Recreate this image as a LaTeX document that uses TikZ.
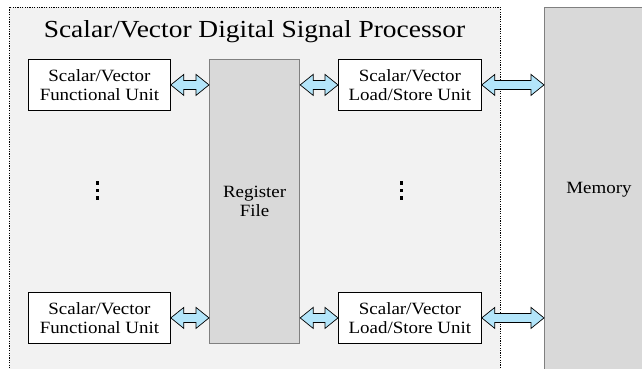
\documentclass[tikz,border=0pt]{standalone}
\usepackage{fontspec}
\setmainfont{Liberation Serif}
\newfontfamily\boxfont[FakeStretch=1.1]{Liberation Serif}
\newfontfamily\titlefont[FakeStretch=1.12]{Liberation Serif}
\usetikzlibrary{calc}
\definecolor{outerfill}{RGB}{242,242,242}
\definecolor{regfill}{RGB}{217,217,217}
\definecolor{regline}{RGB}{128,128,128}
\definecolor{arrfill}{RGB}{179,229,250}
\tikzset{
  unitbox/.style={draw=black, fill=white, line width=0.8pt, minimum width=142pt, minimum height=51pt, inner sep=0pt, align=center, font=\boxfont\fontsize{17.2}{19.5}\selectfont},
  greybox/.style={draw=regline, fill=regfill, line width=1.2pt, inner sep=0pt, align=center, font=\boxfont\fontsize{17.2}{19.5}\selectfont},
  outerbox/.style={draw=black, fill=outerfill, line width=0.8pt, dash pattern=on 1.2pt off 1.2pt},
  blockarrow/.style={draw=black, fill=arrfill, line width=0.7pt, line join=miter},
  dotmark/.style={fill=black}
}
\newcommand{\dblarr}[3]{%
  \path[blockarrow] let \p1=(#1), \p2=(#2), \p3=(#3) in
    (\x1,\y3) -- (\x1+13pt,\y3+10.5pt) -- (\x1+13pt,\y3+4.5pt) -- (\x2-13pt,\y3+4.5pt)
    -- (\x2-13pt,\y3+10.5pt) -- (\x2,\y3) -- (\x2-13pt,\y3-10.5pt) -- (\x2-13pt,\y3-4.5pt)
    -- (\x1+13pt,\y3-4.5pt) -- (\x1+13pt,\y3-10.5pt) -- cycle;}
\begin{document}
\begin{tikzpicture}[x=1pt,y=-1pt]
\useasboundingbox (0,0) rectangle (642,368);
\begin{scope}
\clip (0,0) rectangle (642,368);
\path[outerbox] (9,7) rectangle (500,380);
\node[greybox, minimum width=128pt, minimum height=380pt, anchor=north west] (mem) at (544,7) {};
\end{scope}
\node[font=\boxfont\fontsize{17.2}{19.5}\selectfont] at (599,190) {Memory};
\node[anchor=base, font=\titlefont\fontsize{24.5}{28}\selectfont] (title) at (254.5,37) {Scalar/Vector Digital Signal Processor};
\node[greybox, minimum width=90pt, minimum height=284pt, anchor=north west] (rf) at (209,59) {Register\\File};
\node[unitbox, anchor=north west] (fu1) at (28,59) {Scalar/Vector\\Functional Unit};
\node[unitbox, anchor=north west] (fu2) at (28,292) {Scalar/Vector\\Functional Unit};
\node[unitbox, anchor=north west, minimum width=143pt] (ls1) at (338,59) {Scalar/Vector\\Load/Store Unit};
\node[unitbox, anchor=north west, minimum width=143pt] (ls2) at (338,292) {Scalar/Vector\\Load/Store Unit};
\dblarr{fu1.east}{rf.west}{fu1.east}
\dblarr{fu2.east}{rf.west}{fu2.east}
\dblarr{rf.east}{ls1.west}{ls1.west}
\dblarr{rf.east}{ls2.west}{ls2.west}
\dblarr{ls1.east}{mem.west}{ls1.east}
\dblarr{ls2.east}{mem.west}{ls2.east}
\coordinate (dl) at (97.5,190.5);
\coordinate (dr) at (401.5,190.5);
\foreach \c in {dl,dr}{
  \foreach \dy in {-7.7,0,7.7}{
    \fill[dotmark] ($(\c)+(-1.8,\dy-1.8)$) rectangle ($(\c)+(1.8,\dy+1.8)$);
  }
}
\end{tikzpicture}
\end{document}
